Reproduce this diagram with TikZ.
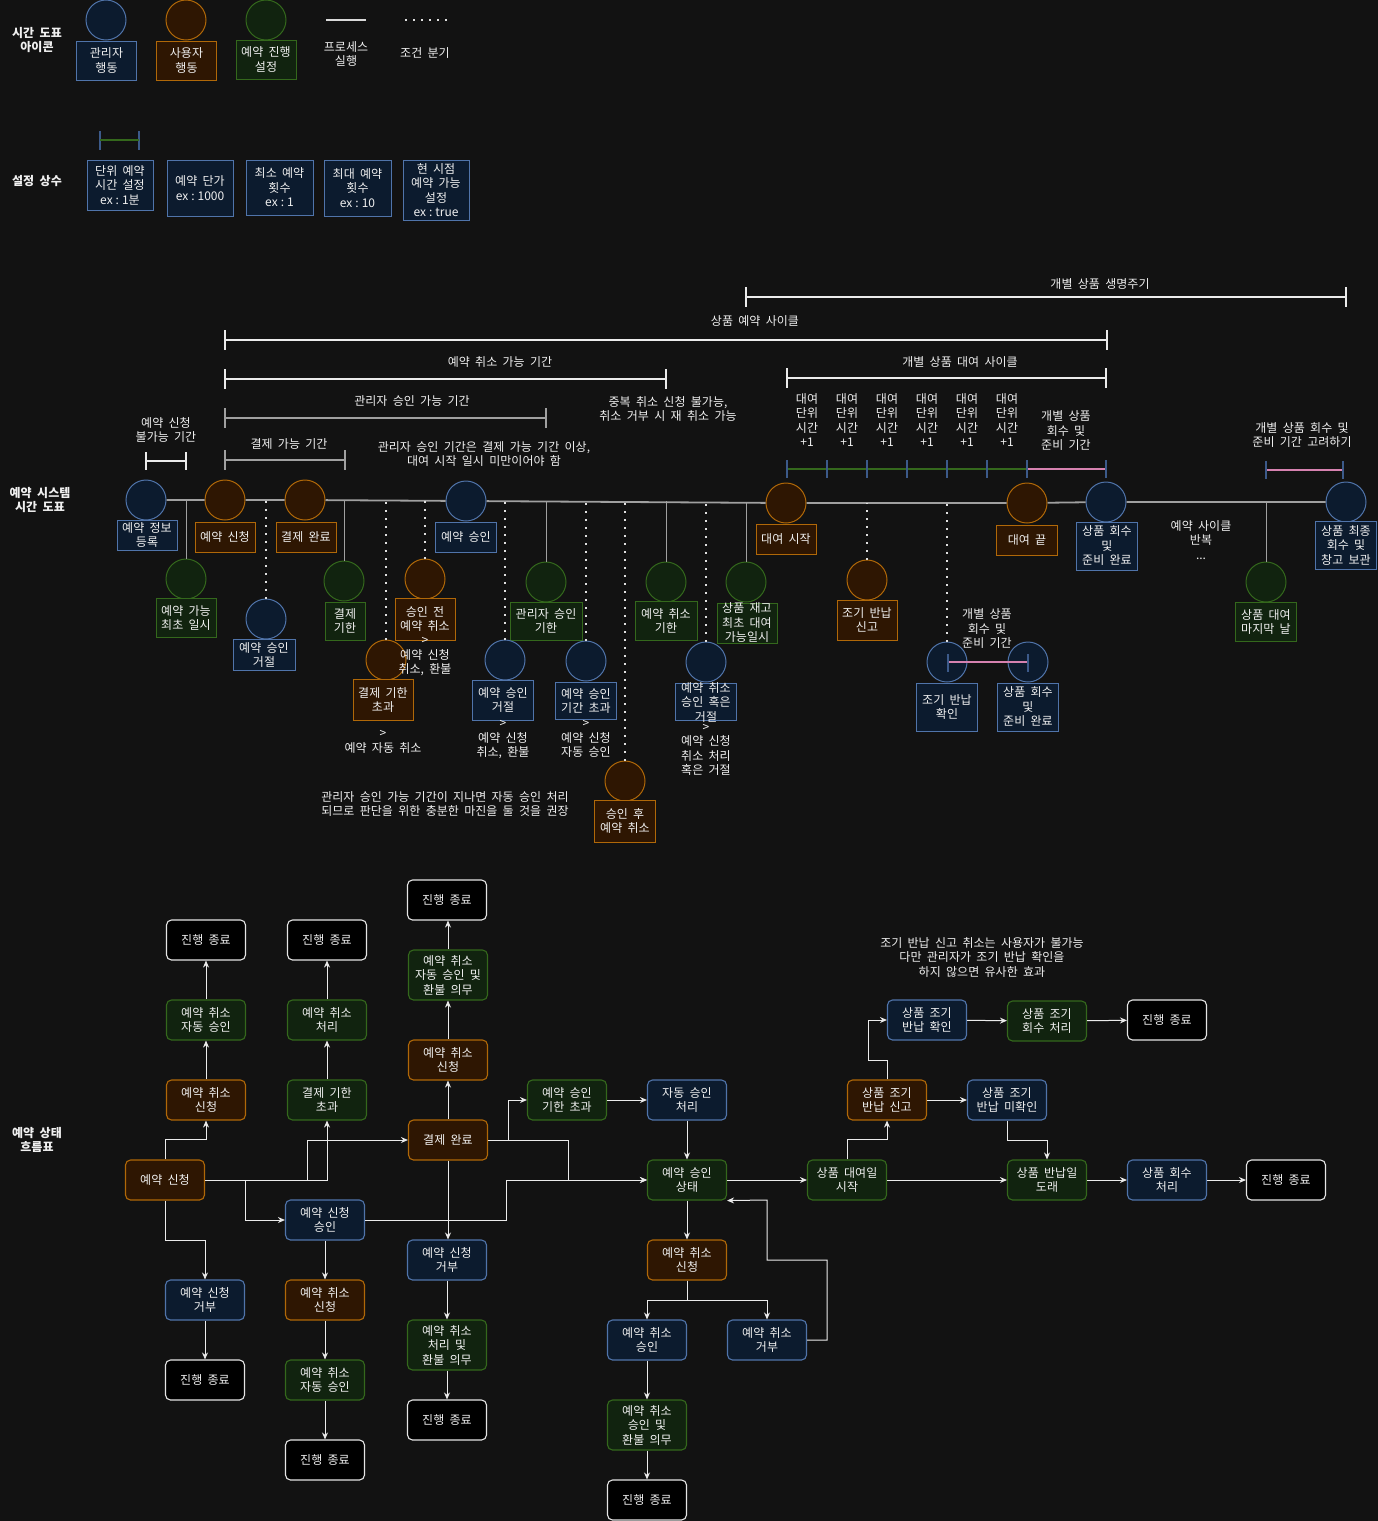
\documentclass[tikz,border=0pt]{standalone}
\usepackage{fontspec}
\setmainfont{Noto Sans CJK KR}[WordSpace=2.0]
\usetikzlibrary{arrows.meta}
\definecolor{bg}{RGB}{18,18,18}
\definecolor{bfill}{RGB}{12,27,46}
\definecolor{bline}{RGB}{80,116,170}
\definecolor{ofill}{RGB}{46,22,2}
\definecolor{oline}{RGB}{176,104,8}
\definecolor{gfill}{RGB}{17,35,15}
\definecolor{gline}{RGB}{52,104,28}
\definecolor{txtc}{RGB}{240,240,240}
\definecolor{lgray}{RGB}{160,160,160}
\definecolor{pinkc}{RGB}{214,130,176}
\definecolor{tickc}{RGB}{60,90,138}
\newcommand\tlbox[7]{%
  \node[#6, minimum width=#4, minimum height=#5, inner sep=0pt] (#1) at (#2,#3) {};
  \node[txt] (#1t) at (#2,#3) {#7};}
\newcommand\brk[5]{%
  \draw[#5] (#1,#3-#4) -- (#1,#3+#4);
  \draw[#5] (#2,#3-#4) -- (#2,#3+#4);
  \draw[#5] (#1,#3) -- (#2,#3);}
\newcommand\exsp{\hspace{3pt}}
\begin{document}
\begin{tikzpicture}[x=1pt,y=-1pt,
  txt/.style={align=center, font=\fontsize{12}{14.5}\selectfont, text=txtc, inner sep=0pt},
  sec/.style={align=center, font=\bfseries\fontsize{12}{14.5}\selectfont, text=txtc, inner sep=0pt},
  tb/.style={draw=bline, fill=bfill, line width=1pt},
  to/.style={draw=oline, fill=ofill, line width=1pt},
  tg/.style={draw=gline, fill=gfill, line width=1pt},
  circ/.style={circle, minimum size=40pt, inner sep=0pt, line width=1pt},
  bc/.style={circ, draw=bline, fill=bfill},
  oc/.style={circ, draw=oline, fill=ofill},
  gc/.style={circ, draw=gline, fill=gfill},
  mainl/.style={draw=lgray, line width=1.8pt},
  branch/.style={draw=lgray, line width=1pt},
  dots/.style={draw=white!88!black, line width=1.8pt, dash pattern=on 1.6pt off 6.4pt},
  brw/.style={draw=white!92!black, line width=1.3pt},
  brg/.style={draw=lgray, line width=1.5pt},
  tk/.style={draw=tickc, line width=1.5pt},
  fbox/.style={rounded corners=5pt, minimum width=79pt, minimum height=40pt, inner sep=1pt, align=center, line width=1.1pt, font=\fontsize{12}{14.5}\selectfont, text=txtc},
  fb/.style={fbox, fill=bfill, draw=bline},
  fo/.style={fbox, fill=ofill, draw=oline},
  fg/.style={fbox, fill=gfill, draw=gline},
  fe/.style={fbox, fill=black, draw=white!90!black},
  arr/.style={draw=white!92!black, line width=1pt, -{Stealth[length=7pt,width=6pt]}}
]
\fill[bg] (0,0) rectangle (1378,1521);
\useasboundingbox (0,0) rectangle (1378,1521);

% ---------- legend ----------
\node[sec] (s1) at (37,40) {시간 도표\\아이콘};
\node[bc] (li1) at (106,20) {};
\tlbox{lb1}{106.5}{60.5}{60}{39}{tb}{관리자\\행동}
\node[oc] (li2) at (186,20) {};
\tlbox{lb2}{186.5}{60.5}{60}{39}{to}{사용자\\행동}
\node[gc] (li3) at (266,20) {};
\tlbox{lb3}{266}{59.5}{60}{39}{tg}{예약 진행\\설정}
\coordinate (lp1) at (326,20); \coordinate (lp2) at (366,20);
\draw[draw=white!85!black, line width=1.5pt] (lp1) -- (lp2);
\node[txt] (lt1) at (346,54) {프로세스\\실행};
\coordinate (ld1) at (405,20); \coordinate (ld2) at (448,20);
\draw[dots] (ld1) -- (ld2);
\node[txt] (lt2) at (425,53) {조건 분기};

\node[sec] (s2) at (37,181) {설정 상수};
\draw[tk] (100,131) -- (100,150);
\draw[tk] (139,131) -- (139,150);
\draw[draw=gline, line width=1.2pt] (100,140) -- (139,140);
\tlbox{k1}{120}{185}{66}{50}{tb}{단위 예약\\시간 설정\\ex\exsp:\exsp1분}
\tlbox{k2}{200}{188}{66}{56}{tb}{예약 단가\\ex\exsp:\exsp1000}
\tlbox{k3}{279.5}{187.5}{67}{55}{tb}{최소 예약\\횟수\\ex\exsp:\exsp1}
\tlbox{k4}{357.5}{188}{67}{56}{tb}{최대 예약\\횟수\\ex\exsp:\exsp10}
\tlbox{k5}{436}{190}{66}{60}{tb}{현 시점\\예약 가능\\설정\\ex\exsp:\exsp true}

% ---------- timeline brackets ----------
\brk{746}{1346}{297}{10}{brw}
\node[txt] (bl1) at (1100,284) {개별 상품 생명주기};
\brk{225}{1107}{340}{10}{brw}
\node[txt] (bl2) at (755,321) {상품 예약 사이클};
\brk{225}{666}{379}{10}{brw}
\node[txt] (bl3) at (500,362) {예약 취소 가능 기간};
\brk{787}{1106}{378}{10}{brw}
\node[txt] (bl4) at (960,362) {개별 상품 대여 사이클};
\brk{225}{546}{418}{10}{brg}
\node[txt] (bl5) at (412,401) {관리자 승인 가능 기간};
\brk{225}{345}{460}{10}{brg}
\node[txt] (bl6) at (289,444) {결제 가능 기간};
\brk{146}{186}{461}{9}{brw}
\node[txt] (bl7) at (166,430) {예약 신청\\불가능 기간};

\node[txt] (n1) at (484,454) {관리자 승인 기간은 결제 가능 기간 이상,\\대여 시작 일시 미만이어야 함};
\node[txt] (n2) at (668,409) {중복 취소 신청 불가능,\\취소 거부 시 재 취소 가능};
\node[txt] (n3) at (445,804) {관리자 승인 가능 기간이 지나면 자동 승인 처리\\되므로 판단을 위한 충분한 마진을 둘 것을 권장};

\foreach \i in {0,...,5} {
  \node[txt] (ru\i) at (807+40*\i,420) {대여\\단위\\시간\\+1};
}
\draw[draw=gline, line width=1.2pt] (787,469) -- (1028,469);
\draw[draw=pinkc, line width=1.2pt] (1028,469) -- (1106,469);
\foreach \i in {0,...,6} { \draw[tk] (787+40*\i,460) -- (787+40*\i,478); }
\draw[tk] (1106,460) -- (1106,478);
\node[txt] (n4) at (1066,431) {개별 상품\\회수 및\\준비 기간};
\node[txt] (n5) at (1302,435) {개별 상품 회수 및\\준비 기간 고려하기};
\draw[draw=pinkc, line width=1.2pt] (1266,470) -- (1343,470);
\draw[tk] (1266,461) -- (1266,479);
\draw[tk] (1343,461) -- (1343,479);

\node[sec] (s3) at (40,500) {예약 시스템\\시간 도표};

% ---------- main timeline ----------
\node[bc] (c1) at (146,500) {};
\node[oc] (c2) at (225,500) {};
\node[oc] (c3) at (305,500) {};
\node[bc] (c4) at (466,501) {};
\node[oc] (c5) at (786,503) {};
\node[oc] (c6) at (1027,503) {};
\node[bc] (c7) at (1106,502) {};
\node[bc] (c8) at (1346,502) {};
\draw[mainl] (c1) -- (c2) -- (c3) -- (c4) -- (c5) -- (c6) -- (c7) -- (c8);
\tlbox{c1b}{147}{535}{60}{30}{tb}{예약 정보\\등록}
\tlbox{c2b}{225}{537}{60}{30}{to}{예약 신청}
\tlbox{c3b}{306}{537}{60}{30}{to}{결제 완료}
\tlbox{c4b}{466}{537}{61}{30}{tb}{예약 승인}
\tlbox{c5b}{786}{539}{60}{30}{to}{대여 시작}
\tlbox{c6b}{1027}{540}{61}{30}{to}{대여 끝}
\tlbox{c7b}{1107}{546}{61}{48}{tb}{상품 회수\\및\\준비 완료}
\tlbox{c8b}{1346}{545}{61}{48}{tb}{상품 최종\\회수 및\\창고 보관}
\node[txt] (n6) at (1201,540) {예약 사이클\\반복\\...};

% solid branches
\node[gc] (g1) at (186,579) {};
\node[gc] (g2) at (344,581) {};
\node[gc] (g3) at (546,582) {};
\node[gc] (g4) at (666,582) {};
\node[gc] (g5) at (746,582) {};
\node[gc] (g6) at (1266,582) {};
\draw[branch] (g1.north) -- (g1 |- c1);
\draw[branch] (g2.north) -- (g2 |- c3);
\draw[branch] (g3.north) -- (g3 |- c4);
\draw[branch] (g4.north) -- (g4 |- c4);
\draw[branch] (g5.north) -- (g5 |- c5);
\draw[branch] (g6.north) -- (g6 |- c8);
\tlbox{g1b}{186}{618}{60}{39}{tg}{예약 가능\\최초 일시}
\tlbox{g2b}{345}{621}{40}{38}{tg}{결제\\기한}
\tlbox{g3b}{546}{621}{72}{38}{tg}{관리자 승인\\기한}
\tlbox{g4b}{666}{621}{62}{39}{tg}{예약 취소\\기한}
\tlbox{g5b}{747}{623}{60}{40}{tg}{상품 재고\\최초 대여\\가능일시}
\tlbox{g6b}{1266}{622}{61}{39}{tg}{상품 대여\\마지막 날}

% dotted branches
\node[bc] (d1) at (266,619) {};
\node[oc] (d2) at (386,660) {};
\node[oc] (d3) at (425,579) {};
\node[bc] (d4) at (505,660) {};
\node[bc] (d5) at (586,661) {};
\node[oc] (d6) at (625,781) {};
\node[bc] (d7) at (706,662) {};
\node[oc] (d8) at (867,580) {};
\node[bc] (d9) at (947,662) {};
\node[bc] (d10) at (1028,662) {};
\draw[dots] (d1.north) -- (d1 |- c1);
\draw[dots] (d2.north) -- (d2 |- c3);
\draw[dots] (d3.north) -- (d3 |- c3);
\draw[dots] (d4.north) -- (d4 |- c4);
\draw[dots] (d5.north) -- (d5 |- c4);
\draw[dots] (d6.north) -- (d6 |- c4);
\draw[dots] (d7.north) -- (d7 |- c5);
\draw[dots] (d8.north) -- (d8 |- c5);
\draw[dots] (d9.north) -- (d9 |- c5);
\tlbox{d1b}{264}{655}{62}{31}{tb}{예약 승인\\거절}
\tlbox{d2b}{383}{700}{60}{41}{to}{결제 기한\\초과}
\node[txt] (d2n) at (383,742) {>\\예약 자동 취소};
\tlbox{d3b}{425}{619}{60}{42}{to}{승인 전\\예약 취소}
\node[txt] (d3n) at (425,657) {>\\예약 신청\\취소, 환불};
\tlbox{d4b}{503}{700}{61}{40}{tb}{예약 승인\\거절}
\node[txt] (d4n) at (503,740) {>\\예약 신청\\취소, 환불};
\tlbox{d5b}{586}{701}{61}{37}{tb}{예약 승인\\기간 초과}
\node[txt] (d5n) at (586,739) {>\\예약 신청\\자동 승인};
\tlbox{d6b}{625}{821}{61}{42}{to}{승인 후\\예약 취소}
\tlbox{d7b}{706}{702}{61}{37}{tb}{예약 취소\\승인 혹은\\거절}
\node[txt] (d7n) at (706,750) {>\\예약 신청\\취소 처리\\혹은 거절};
\tlbox{d8b}{867}{620}{60}{40}{to}{조기 반납\\신고}
\tlbox{d9b}{947}{707}{61}{48}{tb}{조기 반납\\확인}
\tlbox{d10b}{1028}{707}{61}{48}{tb}{상품 회수\\및\\준비 완료}
\draw[draw=pinkc, line width=1.2pt] (d9.center) -- (d10.center);
\draw[tk] (948,654) -- (948,672);
\draw[tk] (1028,654) -- (1028,672);
\node[txt] (n7) at (987,629) {개별 상품\\회수 및\\준비 기간};

% ---------- state flow ----------
\node[sec] (s4) at (37,1140) {예약 상태\\흐름표};

\node[fo] (freq) at (165,1180) {예약 신청};
\node[fo] (fcr1) at (206,1100) {예약 취소\\신청};
\node[fg] (fca1) at (206,1020) {예약 취소\\자동 승인};
\node[fe] (fe1) at (206,940) {진행 종료};
\node[fg] (fpto) at (327,1100) {결제 기한\\초과};
\node[fg] (fcp) at (327,1020) {예약 취소\\처리};
\node[fe] (fe2) at (327,940) {진행 종료};
\node[fo] (fpay) at (448,1140) {결제 완료};
\node[fo] (fcr2) at (448,1060) {예약 취소\\신청};
\node[fg, minimum height=50pt] (fcar) at (448,975) {예약 취소\\자동 승인 및\\환불 의무};
\node[fe] (fe3) at (447,900) {진행 종료};
\node[fb] (fapp) at (325,1220) {예약 신청\\승인};
\node[fo] (fcr3) at (325,1300) {예약 취소\\신청};
\node[fg] (fca3) at (325,1380) {예약 취소\\자동 승인};
\node[fe] (fe4) at (325,1460) {진행 종료};
\node[fb] (frej1) at (205,1300) {예약 신청\\거부};
\node[fe] (fe5) at (205,1380) {진행 종료};
\node[fb] (frej2) at (447,1260) {예약 신청\\거부};
\node[fg, minimum height=50pt] (fcpr) at (447,1345) {예약 취소\\처리 및\\환불 의무};
\node[fe] (fe6) at (447,1420) {진행 종료};
\node[fg] (fato) at (567,1100) {예약 승인\\기한 초과};
\node[fb] (faap) at (687,1100) {자동 승인\\처리};
\node[fg] (fast) at (687,1180) {예약 승인\\상태};
\node[fo] (fcr4) at (687,1260) {예약 취소\\신청};
\node[fb] (fcap) at (647,1340) {예약 취소\\승인};
\node[fb] (fcrj) at (767,1340) {예약 취소\\거부};
\node[fg, minimum height=50pt] (fcar2) at (647,1425) {예약 취소\\승인 및\\환불 의무};
\node[fe] (fe7) at (647,1500) {진행 종료};
\node[fg] (frs) at (847,1180) {상품 대여일\\시작};
\node[fo] (fer) at (887,1100) {상품 조기\\반납 신고};
\node[fb] (ferc) at (927,1020) {상품 조기\\반납 확인};
\node[fg] (ferp) at (1047,1021) {상품 조기\\회수 처리};
\node[fe] (fe8) at (1167,1020) {진행 종료};
\node[fb] (fern) at (1007,1100) {상품 조기\\반납 미확인};
\node[fg] (frd) at (1047,1180) {상품 반납일\\도래};
\node[fb] (frc) at (1167,1180) {상품 회수\\처리};
\node[fe] (fe9) at (1286,1180) {진행 종료};
\node[txt] (n8) at (982,957) {조기 반납 신고 취소는 사용자가 불가능\\다만 관리자가 조기 반납 확인을\\하지 않으면 유사한 효과};

\coordinate (j1) at (307,1180);
\coordinate (j2) at (245,1180);
\coordinate (j3) at (508,1140);
\coordinate (j4) at (568,1140);
\coordinate (j5) at (506,1220);
\coordinate (q1) at (827,1260);
\coordinate (q2) at (767,1200);
\coordinate (m1) at (868,1060);

\draw[arr] (freq.north) -- ++(0,-20) -| (fcr1.south);
\draw[arr] (fcr1) -- (fca1);
\draw[arr] (fca1) -- (fe1);
\draw[arr] (freq.east) -| (fpto.south);
\draw[arr] (freq.east) -- (j1) |- (fpay.west);
\draw[arr] (freq.east) -- (j2) |- (fapp.west);
\draw[arr] (freq.south) -- ++(0,40) -| (frej1.north);
\draw[arr] (fpto) -- (fcp);
\draw[arr] (fcp) -- (fe2);
\draw[arr] (fpay) -- (fcr2);
\draw[arr] (fcr2) -- (fcar);
\draw[arr] (fcar.north) -- (fcar.north |- fe3.south);
\draw[arr] (fpay.south) -- (fpay.south |- frej2.north);
\draw[arr] (fpay.east) -- (j3) |- (fato.west);
\draw[arr] (fpay.east) -- (j4) |- (fast.west);
\draw[arr] (fapp.east) -- (j5) |- (fast.west);
\draw[arr] (fapp) -- (fcr3);
\draw[arr] (fcr3) -- (fca3);
\draw[arr] (fca3) -- (fe4);
\draw[arr] (frej1) -- (fe5);
\draw[arr] (frej2) -- (fcpr);
\draw[arr] (fcpr) -- (fe6);
\draw[arr] (fato) -- (faap);
\draw[arr] (faap) -- (fast);
\draw[arr] (fast) -- (fcr4);
\draw[arr] (fcr4.south) -- ++(0,20) -| (fcap.north);
\draw[arr] (fcr4.south) -- ++(0,20) -| (fcrj.north);
\draw[arr] (fcap) -- (fcar2);
\draw[arr] (fcar2) -- (fe7);
\draw[arr] (fcrj.east) -| (q1) -| (q2) -- (fast.south east);
\draw[arr] (fast) -- (frs);
\draw[arr] (frs.north) -- ++(0,-20) -| (fer.south);
\draw[arr] (frs) -- (frd);
\draw[arr] (fer.north) |- (m1) |- (ferc.west);
\draw[arr] (fer) -- (fern);
\draw[arr] (ferc) -- (ferp);
\draw[arr] (ferp) -- (fe8);
\draw[arr] (fern.south) -- ++(0,20) -| (frd.north);
\draw[arr] (frd) -- (frc);
\draw[arr] (frc) -- (fe9);
\end{tikzpicture}
\end{document}
